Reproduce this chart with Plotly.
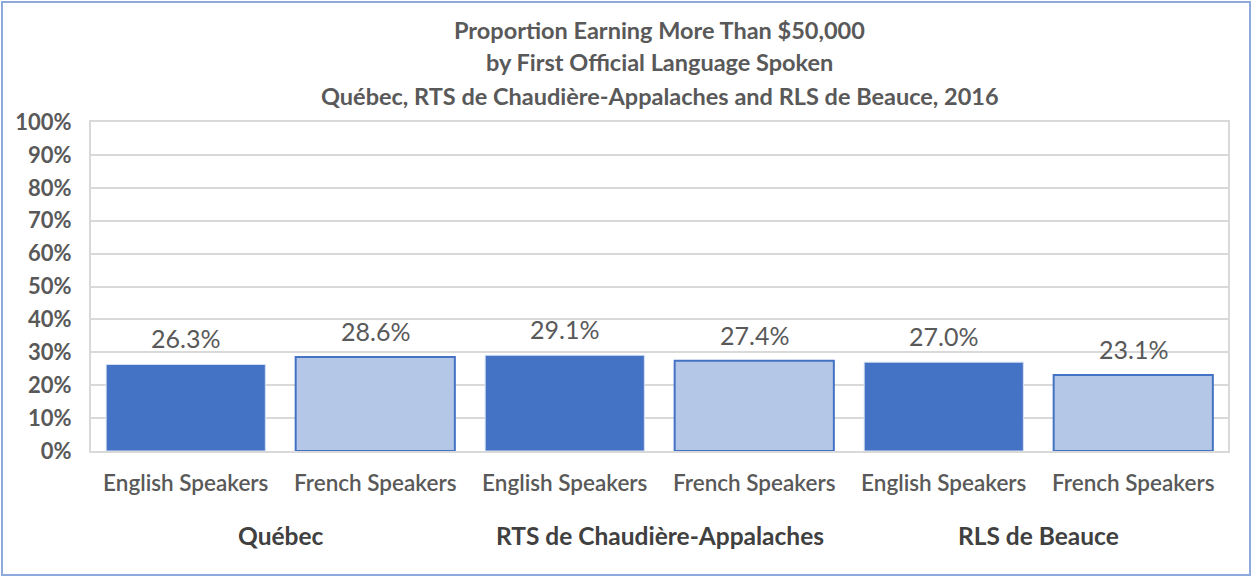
import plotly.graph_objects as go

groups = ["Québec", "RTS de Chaudière-Appalaches", "RLS de Beauce"]
speakers = ["English Speakers", "French Speakers"]
values = [26.3, 28.6, 29.1, 27.4, 27.0, 23.1]
title_lines = [
    "Proportion Earning More Than $50,000",
    "by First Official Language Spoken",
    "Québec, RTS de Chaudière-Appalaches and RLS de Beauce, 2016",
]
yticks = list(range(0, 101, 10))

FONT = "Lato"
GREY = "#595959"
DARK_BLUE = "#4472C4"
LIGHT_BLUE = "#B4C7E7"

xpos = list(range(len(values)))
tick_text = [speakers[i % 2] for i in xpos]
fills = [DARK_BLUE if i % 2 == 0 else LIGHT_BLUE for i in xpos]
edges = ["#D6E0F5" if i % 2 == 0 else DARK_BLUE for i in xpos]
edge_w = [1 if i % 2 == 0 else 2 for i in xpos]

fig = go.Figure()
fig.add_trace(go.Bar(
    x=xpos, y=values,
    marker=dict(color=fills, line=dict(color=edges, width=edge_w)),
    width=0.84,
    hoverinfo="skip",
))

# value labels
for x, v in zip(xpos, values):
    fig.add_annotation(x=x, y=v, text=f"{v:.1f}%", showarrow=False,
                       yanchor="middle", yshift=26,
                       font=dict(family=FONT, size=25, color=GREY))

# group labels under the speaker ticks
for g, name in enumerate(groups):
    fig.add_annotation(x=2 * g + 0.5, y=0, yref="paper", text=f"<b>{name}</b>",
                       showarrow=False, yanchor="middle", yshift=-84,
                       font=dict(family=FONT, size=24.5, color="#404040"))

# three-line title (pixel offsets above the plot top)
for line, shift in zip(title_lines, [92, 60, 26]):
    fig.add_annotation(x=0.5, xref="paper", y=1, yref="paper",
                       text=f"<b>{line}</b>", showarrow=False,
                       yanchor="middle", yshift=shift,
                       font=dict(family=FONT, size=23.5, color=GREY))

# outer chart border
fig.add_shape(type="rect", xref="paper", yref="paper",
              x0=-89 / 1137, x1=1 + 22 / 1137, y0=-124 / 329, y1=1 + 120 / 329,
              line=dict(color="#8EA9DB", width=2), layer="below")

fig.update_layout(
    width=1254, height=577,
    margin=dict(l=91, r=26, t=122, b=126),
    paper_bgcolor="white", plot_bgcolor="white",
    showlegend=False,
    font=dict(family=FONT, color=GREY),
)
fig.update_xaxes(
    tickvals=xpos, ticktext=tick_text, range=[-0.5, 5.5],
    tickfont=dict(family=FONT, size=22.5, color=GREY, weight=600),
    showgrid=False, showline=True, linecolor="#D9D9D9", linewidth=2,
    mirror=True, ticks="outside", ticklen=11, tickcolor="rgba(0,0,0,0)",
)
fig.update_yaxes(
    range=[0, 100], tickvals=yticks, ticktext=[f"<b>{t}%</b>" for t in yticks],
    tickfont=dict(family=FONT, size=22, color=GREY),
    showgrid=True, gridcolor="#D9D9D9", gridwidth=2,
    showline=True, linecolor="#D9D9D9", linewidth=2, mirror=True,
    ticks="outside", ticklen=13, tickcolor="rgba(0,0,0,0)",
    zeroline=False,
)

fig.write_html("out.html", config={"displayModeBar": False},
               post_script="document.body.style.margin='0';")
